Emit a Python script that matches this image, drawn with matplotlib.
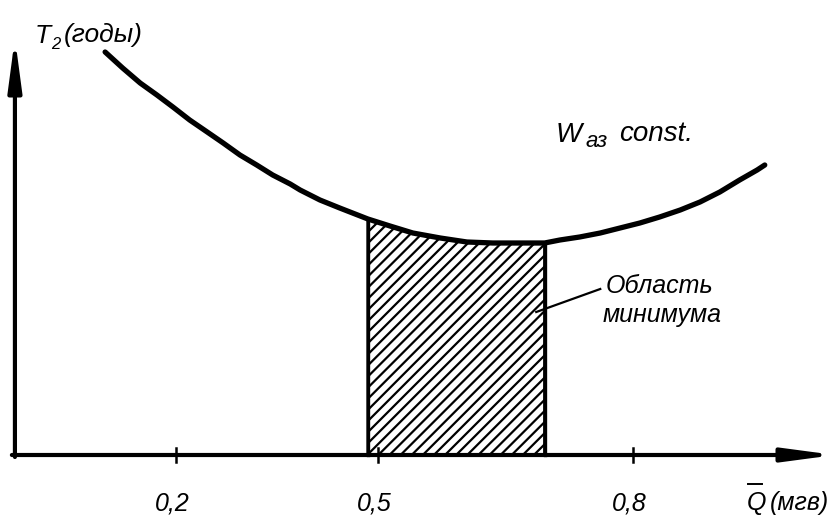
"""Schematic: T2 vs mean Q with the minimum region hatched."""

import matplotlib

matplotlib.use("Agg")
import matplotlib.pyplot as plt
import numpy as np

plt.rcParams["font.family"] = ["Liberation Sans Narrow", "Liberation Sans", "DejaVu Sans"]
plt.rcParams["hatch.linewidth"] = 1.6

# curve W_az = const, arbitrary units (Q in mgv, T2 in years, schematic)
q_curve = [0.107, 0.130, 0.153, 0.175, 0.196, 0.218, 0.241, 0.262, 0.284, 0.306,
           0.327, 0.350, 0.363, 0.389, 0.415, 0.452, 0.481, 0.511, 0.547, 0.582,
           0.616, 0.652, 0.684, 0.704, 0.730, 0.757, 0.783, 0.809, 0.835, 0.862,
           0.888, 0.914, 0.940, 0.963, 0.973]
t_curve = [4.03, 3.87, 3.72, 3.60, 3.48, 3.35, 3.23, 3.12, 3.00, 2.90,
           2.80, 2.71, 2.65, 2.55, 2.47, 2.36, 2.29, 2.22, 2.17, 2.13,
           2.12, 2.12, 2.12, 2.15, 2.18, 2.22, 2.27, 2.32, 2.38, 2.45,
           2.53, 2.63, 2.75, 2.85, 2.90]
min_region = (0.452, 0.684)

# ticks as drawn on the original (hand-drawn axis, not strictly linear)
tick_pos = [0.2, 0.465, 0.8]
tick_labels = ["0,2", "0,5", "0,8"]

W, H = 835, 526
fig = plt.figure(figsize=(W / 100, H / 100), dpi=100)
ax = fig.add_axes([0, 0, 1, 1])
ax.set_xlim(-0.031, 1.0652)
ax.set_ylim(-0.71, 4.55)
ax.axis("off")

x0, y0 = -0.0114, 0.0

# axes with arrows
arrow = dict(arrowstyle="-|>,head_length=1.5,head_width=0.2", lw=3.0, color="black",
             shrinkA=0, shrinkB=0, mutation_scale=20)
ax.annotate("", xy=(x0, 4.17), xytext=(x0, y0 - 0.02), arrowprops=arrow)
ax.annotate("", xy=(1.0652, y0), xytext=(x0 - 0.004, y0), arrowprops=arrow)

# tick marks
for p in tick_pos:
    ax.plot([p, p], [-0.07, 0.07], color="black", lw=1.8)

# hatched region of minimum
q = np.array(q_curve)
t = np.array(t_curve)
mask = (q >= min_region[0]) & (q <= min_region[1])
ax.fill_between(q[mask], 0, t[mask], facecolor="white", edgecolor="black",
                hatch="///", lw=2.2)
for xe in min_region:
    ax.plot([xe, xe], [0, t[q == xe][0]], color="black", lw=2.4)

# the curve
ax.plot(q, t, color="black", lw=3.8, solid_capstyle="round", solid_joinstyle="round")

# leader line
ax.plot([0.673, 0.757], [1.43, 1.66], color="black", lw=1.6)


def put(px, py, s, size, **kw):
    fig.text(px / W, 1 - py / H, s, fontsize=size, fontstyle="italic",
             va="baseline", ha=kw.pop("ha", "left"), **kw)


# y label
put(35, 43, "T", 19)
put(51, 49, "2", 12)
put(64, 42, "(годы)", 19)

# curve label
put(556, 142, "W", 20)
put(585, 147, "аз", 16)
put(619, 141, "const.", 20)

# region label
put(606, 293, "Область", 18)
put(603, 322, "минимума", 18)

# x tick labels
for p, lab in zip(tick_pos, tick_labels):
    px = 176 + (p - 0.2) * 761.7
    put(px - 4, 510, lab, 18, ha="center")

# x label with overline on Q
put(747, 510, "Q", 18)
fig.add_artist(plt.Line2D([748 / W, 762 / W], [1 - 484 / H, 1 - 484 / H],
                          color="black", lw=1.4))
put(770, 510, "(мгв)", 18)

fig.savefig("out.png", dpi=100, facecolor="white")
